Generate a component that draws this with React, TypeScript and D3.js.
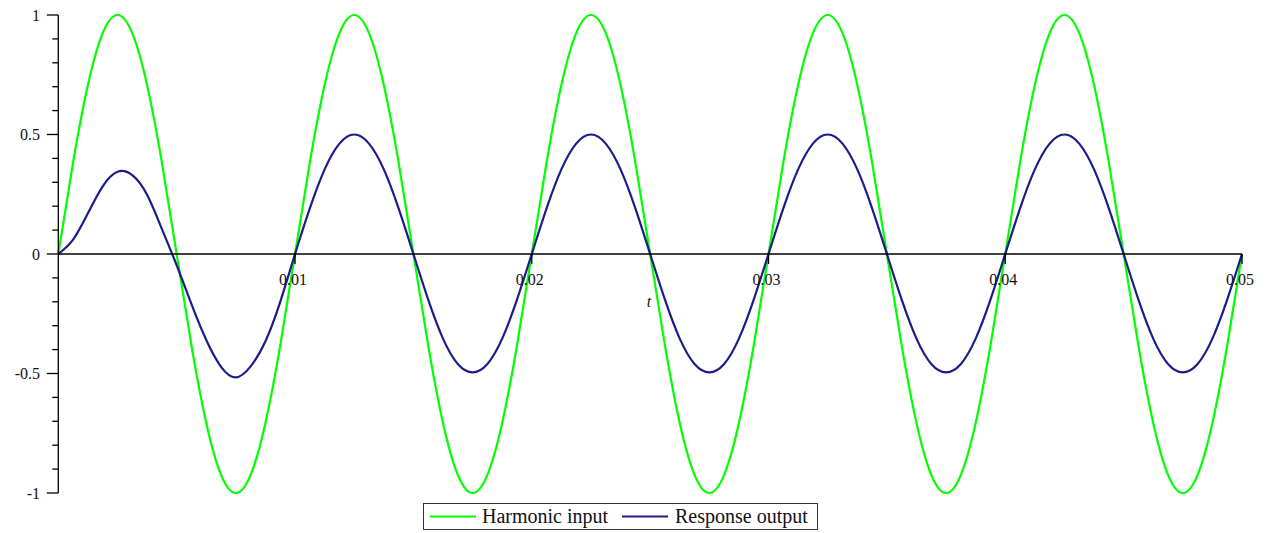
import React from "react";
import * as d3 from "d3";

// sample times in milliseconds (1/16 of a period apart)
const T_MS: number[] = [
  0, 0.625, 1.25, 1.875, 2.5, 3.125, 3.75, 4.375, 5, 5.625, 6.25, 6.875, 7.5, 8.125, 8.75, 9.375,
  10, 10.625, 11.25, 11.875, 12.5, 13.125, 13.75, 14.375, 15, 15.625, 16.25, 16.875, 17.5, 18.125, 18.75, 19.375,
  20, 20.625, 21.25, 21.875, 22.5, 23.125, 23.75, 24.375, 25, 25.625, 26.25, 26.875, 27.5, 28.125, 28.75, 29.375,
  30, 30.625, 31.25, 31.875, 32.5, 33.125, 33.75, 34.375, 35, 35.625, 36.25, 36.875, 37.5, 38.125, 38.75, 39.375,
  40, 40.625, 41.25, 41.875, 42.5, 43.125, 43.75, 44.375, 45, 45.625, 46.25, 46.875, 47.5, 48.125, 48.75, 49.375,
  50,
];

const HARMONIC_INPUT: number[] = [
  0, 0.383, 0.707, 0.924, 1, 0.924, 0.707, 0.383, 0, -0.383, -0.707, -0.924, -1, -0.924, -0.707, -0.383,
  0, 0.383, 0.707, 0.924, 1, 0.924, 0.707, 0.383, 0, -0.383, -0.707, -0.924, -1, -0.924, -0.707, -0.383,
  0, 0.383, 0.707, 0.924, 1, 0.924, 0.707, 0.383, 0, -0.383, -0.707, -0.924, -1, -0.924, -0.707, -0.383,
  0, 0.383, 0.707, 0.924, 1, 0.924, 0.707, 0.383, 0, -0.383, -0.707, -0.924, -1, -0.924, -0.707, -0.383,
  0, 0.383, 0.707, 0.924, 1, 0.924, 0.707, 0.383, 0, -0.383, -0.707, -0.924, -1, -0.924, -0.707, -0.383,
  0,
];

const RESPONSE_OUTPUT: number[] = [
  0, 0.06, 0.17, 0.283, 0.344, 0.33, 0.248, 0.105, -0.047, -0.21, -0.36, -0.472, -0.516, -0.47, -0.365, -0.2,
  0.0, 0.191, 0.354, 0.462, 0.5, 0.462, 0.354, 0.191, 0, -0.191, -0.354, -0.46, -0.495, -0.46, -0.354, -0.191,
  0, 0.191, 0.354, 0.462, 0.5, 0.462, 0.354, 0.191, 0, -0.191, -0.354, -0.46, -0.495, -0.46, -0.354, -0.191,
  0, 0.191, 0.354, 0.462, 0.5, 0.462, 0.354, 0.191, 0, -0.191, -0.354, -0.46, -0.495, -0.46, -0.354, -0.191,
  0, 0.191, 0.354, 0.462, 0.5, 0.462, 0.354, 0.191, 0, -0.191, -0.354, -0.46, -0.495, -0.46, -0.354, -0.191,
  0,
];

const X_TICKS: number[] = [0.01, 0.02, 0.03, 0.04, 0.05];
const X_TICK_LABELS: string[] = ["0.01", "0.02", "0.03", "0.04", "0.05"];
const Y_MAJOR: number[] = [-1, -0.5, 0, 0.5, 1];
const Y_MAJOR_LABELS: string[] = ["-1", "-0.5", "0", "0.5", "1"];
const Y_MINOR: number[] = [-0.9, -0.8, -0.7, -0.6, -0.4, -0.3, -0.2, -0.1, 0.1, 0.2, 0.3, 0.4, 0.6, 0.7, 0.8, 0.9];
const LEGEND: string[] = ["Harmonic input", "Response output"];

const W = 1267;
const H = 533;
const GREEN = "#00ff00";
const NAVY = "#1c1c88";
const FONT = "'Liberation Serif', 'Times New Roman', serif";

export default function App() {
  const x = d3.scaleLinear().domain([0, 0.05]).range([58.3, 1242]);
  const y = d3.scaleLinear().domain([-1, 1]).range([493, 15]);
  const t = T_MS.map((v) => v / 1000);

  const line = d3
    .line<number>()
    .x((_, i) => x(t[i]))
    .y((d) => y(d))
    .curve(d3.curveNatural);

  const x0 = x(0);
  const y0 = y(0);

  return (
    <svg
      width={W}
      height={H}
      style={{ position: "absolute", left: 0, top: 0, background: "#fff" }}
      fontFamily={FONT}
    >
      <rect width={W} height={H} fill="#fff" />
      {/* data */}
      <path d={line(HARMONIC_INPUT) || ""} fill="none" stroke={GREEN} strokeWidth={2.2} />
      <path d={line(RESPONSE_OUTPUT) || ""} fill="none" stroke={NAVY} strokeWidth={2.2} />

      {/* x axis */}
      <line x1={x0} x2={x(0.05)} y1={y0} y2={y0} stroke="#000" strokeWidth={1.3} />
      {X_TICKS.map((v, i) => (
        <g key={"xt" + i}>
          <line x1={x(v)} x2={x(v)} y1={y0} y2={y0 + 10} stroke="#000" strokeWidth={1.3} />
          <text x={x(v) - 2} y={285} fontSize={16} textAnchor="middle" fill="#111">
            {X_TICK_LABELS[i]}
          </text>
        </g>
      ))}
      <text x={649} y={307} fontSize={16} fontStyle="italic" textAnchor="middle" fill="#111">
        t
      </text>

      {/* y axis */}
      <line x1={x0} x2={x0} y1={y(1)} y2={y(-1)} stroke="#000" strokeWidth={1.3} />
      {Y_MINOR.map((v, i) => (
        <line key={"ym" + i} x1={x0 - 6} x2={x0} y1={y(v)} y2={y(v)} stroke="#000" strokeWidth={1.3} />
      ))}
      {Y_MAJOR.map((v, i) => (
        <g key={"yM" + i}>
          <line x1={x0 - 11.5} x2={x0} y1={y(v)} y2={y(v)} stroke="#000" strokeWidth={1.3} />
          <text x={40} y={y(v)} dy="0.35em" fontSize={16} textAnchor="end" fill="#111">
            {Y_MAJOR_LABELS[i]}
          </text>
        </g>
      ))}

      {/* legend */}
      <rect x={423.5} y={503.5} width={394} height={26} fill="#fff" stroke="#333" strokeWidth={1} />
      <line x1={430} x2={476} y1={516.5} y2={516.5} stroke={GREEN} strokeWidth={2.2} />
      <text x={482} y={523} fontSize={20} fill="#111">
        {LEGEND[0]}
      </text>
      <line x1={622} x2={668} y1={516.5} y2={516.5} stroke={NAVY} strokeWidth={2.2} />
      <text x={675} y={523} fontSize={20} fill="#111">
        {LEGEND[1]}
      </text>
    </svg>
  );
}
